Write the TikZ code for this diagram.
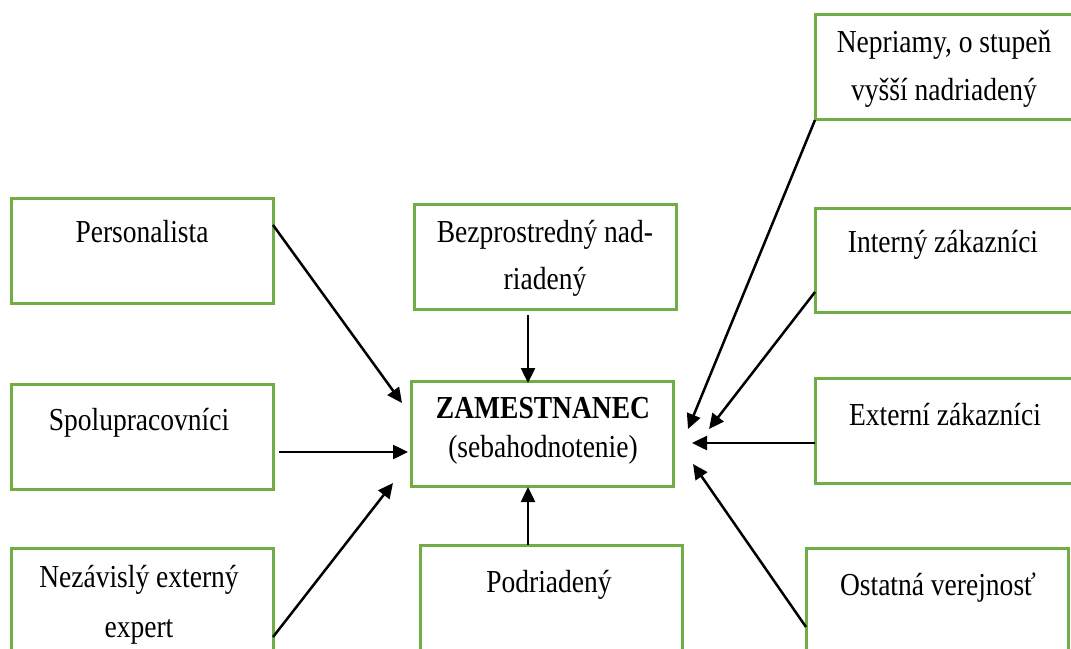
\documentclass[tikz,border=0pt]{standalone}
\usepackage{fontspec}
\setmainfont[FakeStretch=0.86]{Liberation Serif}
\usetikzlibrary{arrows.meta}
\definecolor{boxgreen}{RGB}{112,173,71}
\tikzset{
  box/.style={draw=boxgreen, line width=3pt, rectangle, anchor=north west, inner sep=0pt, outer sep=0pt},
  txt/.style={anchor=base, inner sep=0pt, align=center, font=\fontsize{32}{48}\selectfont},
  conn/.style={draw=black, line width=2.5pt, -{Triangle[length=15pt,width=14pt]}}
}
\begin{document}
\begin{tikzpicture}[x=1pt,y=-1pt]
\useasboundingbox (0,0) rectangle (1071,648);
\clip (0,0) rectangle (1071,648);
% boxes
\node[box, minimum width=262pt, minimum height=105pt] (pers) at (11,198) {};
\node[box, minimum width=262pt, minimum height=105pt] (spol) at (11,384) {};
\node[box, minimum width=262pt, minimum height=160pt] (nez) at (11,548) {};
\node[box, minimum width=262pt, minimum height=105pt] (bezp) at (414,204) {};
\node[box, minimum width=262pt, minimum height=105pt] (zam) at (411,381) {};
\node[box, minimum width=262pt, minimum height=160pt] (podr) at (420,545) {};
\node[box, minimum width=280pt, minimum height=105pt] (nep) at (815,14) {};
\node[box, minimum width=280pt, minimum height=104pt] (int) at (815,208) {};
\node[box, minimum width=280pt, minimum height=105pt] (ext) at (815,378) {};
\node[box, minimum width=262pt, minimum height=160pt] (ost) at (806,548) {};
% texts (multi-line nodes: base = last line)
\node[txt] (perst) at (142,242) {Personalista};
\node[txt] (spolt) at (139,430) {Spolupracovníci};
\node[txt, font=\fontsize{32}{50}\selectfont] (nezt) at (139,637) {Nezávislý externý\\expert};
\node[txt, font=\fontsize{32}{47}\selectfont] (bezpt) at (545,289) {Bezprostredný nad-\\riadený};
\node[txt, font=\fontsize{32}{39}\selectfont] (zamt) at (543,457) {\textbf{ZAMESTNANEC}\\(sebahodnotenie)};
\node[txt] (podrt) at (549,592) {Podriadený};
\node[txt] (nept) at (944,100) {Nepriamy, o stupeň\\vyšší nadriadený};
\node[txt] (intt) at (943,252) {Interný zákazníci};
\node[txt] (extt) at (945,425) {Externí zákazníci};
\node[txt] (ostt) at (938,595) {Ostatná verejnosť};
% connector end points
\coordinate (s1) at (273,225);
\coordinate (e1) at (402,403);
\coordinate (s2) at (279,452);
\coordinate (e2) at (408,452);
\coordinate (s3) at (273,637);
\coordinate (e3) at (393,483);
\coordinate (s4) at (528,315);
\coordinate (e4) at (528,383);
\coordinate (s5) at (528,545);
\coordinate (e5) at (528,487);
\coordinate (s6) at (815,120);
\coordinate (e6) at (688,429);
\coordinate (s7) at (815,292);
\coordinate (e7) at (709,429);
\coordinate (s8) at (815,443);
\coordinate (e8) at (692,443);
\coordinate (s9) at (806,627);
\coordinate (e9) at (693,464);
\draw[conn] (s1) -- (e1);
\draw[conn] (s2) -- (e2);
\draw[conn] (s3) -- (e3);
\draw[conn] (s4) -- (e4);
\draw[conn] (s5) -- (e5);
\draw[conn] (s6) -- (e6);
\draw[conn] (s7) -- (e7);
\draw[conn] (s8) -- (e8);
\draw[conn] (s9) -- (e9);
\end{tikzpicture}
\end{document}
